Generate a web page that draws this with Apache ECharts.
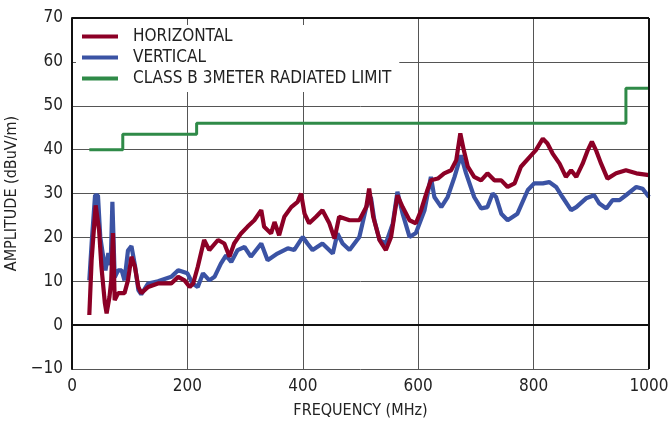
<!DOCTYPE html>
<html lang="en">
<head>
	<meta charset="UTF-8">
	<title>Radiated Emissions</title>
	<script src="https://cdn.jsdelivr.net/npm/echarts@6/dist/echarts.min.js"></script>
	<style>
		body { margin: 0; background: #fff; }
	</style>
</head>
<body>
	<div id="main" style="width: 668px;height: 421px;"></div>

	<script>
		// horizontal antenna trace
		var hFreq = [30, 34, 41, 47, 51, 57, 60, 65, 68, 71, 74, 80, 91, 97, 103, 109, 115, 120, 132, 149,
			172, 184, 195, 204, 210, 218, 229, 238, 253, 264, 273, 281, 293, 304, 316, 328, 333, 345, 351, 359,
			368, 380, 391, 397, 403, 411, 423, 434, 446, 455, 463, 481, 498, 510, 515, 522, 533, 544, 553, 564,
			573, 585, 596, 605, 616, 622, 634, 645, 657, 666, 673, 679, 686, 697, 709, 720, 732, 744, 755, 767,
			778, 793, 804, 816, 824, 833, 845, 856, 865, 874, 885, 894, 901, 908, 917, 928, 943, 960, 978, 1000];
		var hAmp = [2.3, 14.8, 27.3, 21.6, 13.3, 5, 2.7, 6.5, 10.2, 21, 5.7, 7.3, 7.3, 10.2, 15.6, 13.3, 8.7, 7.3, 8.7, 9.5,
			9.5, 11, 10.2, 8.7, 9.5, 13.3, 19.4, 17.1, 19.4, 18.6, 15.6, 18.6, 20.9, 22.4, 23.9, 26.2, 22.4, 20.9, 23.5, 20.5,
			24.7, 26.9, 28.1, 30, 25.4, 23.2, 24.7, 26.2, 23.2, 19.7, 24.7, 23.9, 23.9, 26.9, 31.1, 24.7, 19.4, 17.1, 20.1, 29.6,
			26.9, 23.9, 23.2, 26.2, 30.8, 33, 33.4, 34.6, 35.3, 37.6, 43.7, 39.9, 36.1, 33.8, 33, 34.6, 33, 33, 31.5, 32.3,
			36.1, 38.3, 39.9, 42.5, 41.4, 39.1, 36.8, 33.8, 35.3, 33.8, 36.8, 39.9, 41.8, 39.9, 36.8, 33.4, 34.6, 35.3, 34.6, 34.2];

		// vertical antenna trace
		var vFreq = [30, 34, 40, 45, 49, 55, 58, 63, 67, 70, 74, 80, 86, 91, 97, 103, 109, 115, 120, 132,
			149, 172, 184, 200, 209, 218, 227, 238, 247, 258, 267, 276, 287, 299, 310, 328, 339, 356, 374, 385,
			400, 408, 417, 434, 452, 460, 469, 481, 498, 510, 518, 524, 533, 544, 556, 564, 573, 585, 596, 611,
			622, 628, 640, 651, 663, 674, 683, 697, 709, 720, 729, 735, 744, 755, 772, 790, 801, 816, 827, 839,
			850, 865, 874, 891, 905, 914, 926, 937, 949, 960, 978, 989, 1000];
		var vAmp = [10.2, 18.6, 29.6, 29.6, 20.1, 14.8, 12.5, 16.4, 13.7, 28.1, 10.9, 12.5, 12.5, 10.2, 17, 18, 13.7, 8, 7, 9.5,
			10, 11, 12.5, 11.8, 9.5, 8.7, 11.8, 10.2, 11, 14, 15.9, 14.4, 17.1, 17.8, 15.6, 18.6, 14.8, 16.3, 17.5, 17.1,
			20.1, 18.6, 17.1, 18.6, 16.3, 20.9, 18.6, 17.1, 20.1, 26.9, 29.2, 23.9, 19.4, 18.6, 23.2, 30.4, 25.4, 20.1, 21, 26.2,
			33.8, 29.2, 26.9, 29.2, 33.8, 38.7, 34.6, 29.2, 26.6, 26.9, 30, 29.2, 25.4, 23.9, 25.4, 30.8, 32.3, 32.3, 32.6, 31.5,
			29.2, 26.2, 26.9, 28.9, 29.6, 27.7, 26.6, 28.5, 28.5, 29.6, 31.5, 31.1, 29.2];

		// class B limit (step)
		var limFreq = [30, 88, 88, 216, 216, 960, 960, 1000];
		var limAmp = [40, 40, 43.5, 43.5, 46, 46, 54, 54];

		function pairs(xs, ys) {
			return xs.map(function (x, i) { return [x, ys[i]]; });
		}

		var font = '"DejaVu Sans Condensed", "Liberation Sans Narrow", sans-serif';
		var chart = echarts.init(document.getElementById('main'));

		var option = {
			animation: false,
			grid: { left: 72, right: 19, top: 18, bottom: 52, containLabel: false, outerBoundsMode: 'none' },
			legend: {
				orient: 'vertical',
				left: 76,
				top: 25,
				padding: [3, 8, 5, 6],
				itemGap: 4,
				itemWidth: 36,
				itemHeight: 4,
				icon: 'rect',
				backgroundColor: '#fff',
				textStyle: { fontFamily: font, fontSize: 17, color: '#222', padding: [0, 0, 0, 10] },
				data: ['HORIZONTAL', 'VERTICAL', 'CLASS B 3METER RADIATED LIMIT']
			},
			xAxis: {
				type: 'value',
				min: 0, max: 1000, interval: 200,
				name: 'FREQUENCY (MHz)',
				nameLocation: 'middle',
				nameGap: 34,
				nameTextStyle: { fontFamily: font, fontSize: 16, color: '#222' },
				axisLine: { lineStyle: { color: '#111', width: 2 } },
				axisTick: { show: false },
				axisLabel: {
					fontFamily: font, fontSize: 17, color: '#222', margin: 9, hideOverlap: false,
					formatter: function (v) { return String(v); }
				},
				splitLine: { lineStyle: { color: '#555', width: 1 } }
			},
			yAxis: {
				type: 'value',
				min: -10, max: 70, interval: 10,
				name: 'AMPLITUDE (dBuV/m)',
				nameLocation: 'middle',
				nameGap: 42,
				nameTextStyle: { fontFamily: font, fontSize: 16, color: '#222' },
				axisLine: { show: true, lineStyle: { color: '#111', width: 2 } },
				axisTick: { show: false },
				axisLabel: {
					fontFamily: font, fontSize: 17, color: '#222', margin: 9, hideOverlap: false,
					formatter: function (v) { return v < 0 ? '\u2212' + Math.abs(v) : String(v); }
				},
				splitLine: { lineStyle: { color: '#555', width: 1 } }
			},
			series: [
				{
					name: 'HORIZONTAL', type: 'line', showSymbol: false, z: 3,
					color: '#8c0026',
					lineStyle: { width: 4.2, color: '#8c0026' },
					data: pairs(hFreq, hAmp)
				},
				{
					name: 'VERTICAL', type: 'line', showSymbol: false, z: 2,
					color: '#3b53a4',
					lineStyle: { width: 4.2, color: '#3b53a4' },
					data: pairs(vFreq, vAmp)
				},
				{
					name: 'CLASS B 3METER RADIATED LIMIT', type: 'line', showSymbol: false, z: 4,
					color: '#2f8a48',
					lineStyle: { width: 3, color: '#2f8a48' },
					data: pairs(limFreq, limAmp)
				},
				{
					// right and top frame of the plot
					type: 'line', silent: true, data: [],
					markLine: {
						silent: true, symbol: 'none', label: { show: false },
						lineStyle: { color: '#111', width: 2, type: 'solid' },
						data: [{ xAxis: 1000 }, { yAxis: 70 }]
					}
				}
			]
		};
		chart.setOption(option);
	</script>
</body>
</html>
